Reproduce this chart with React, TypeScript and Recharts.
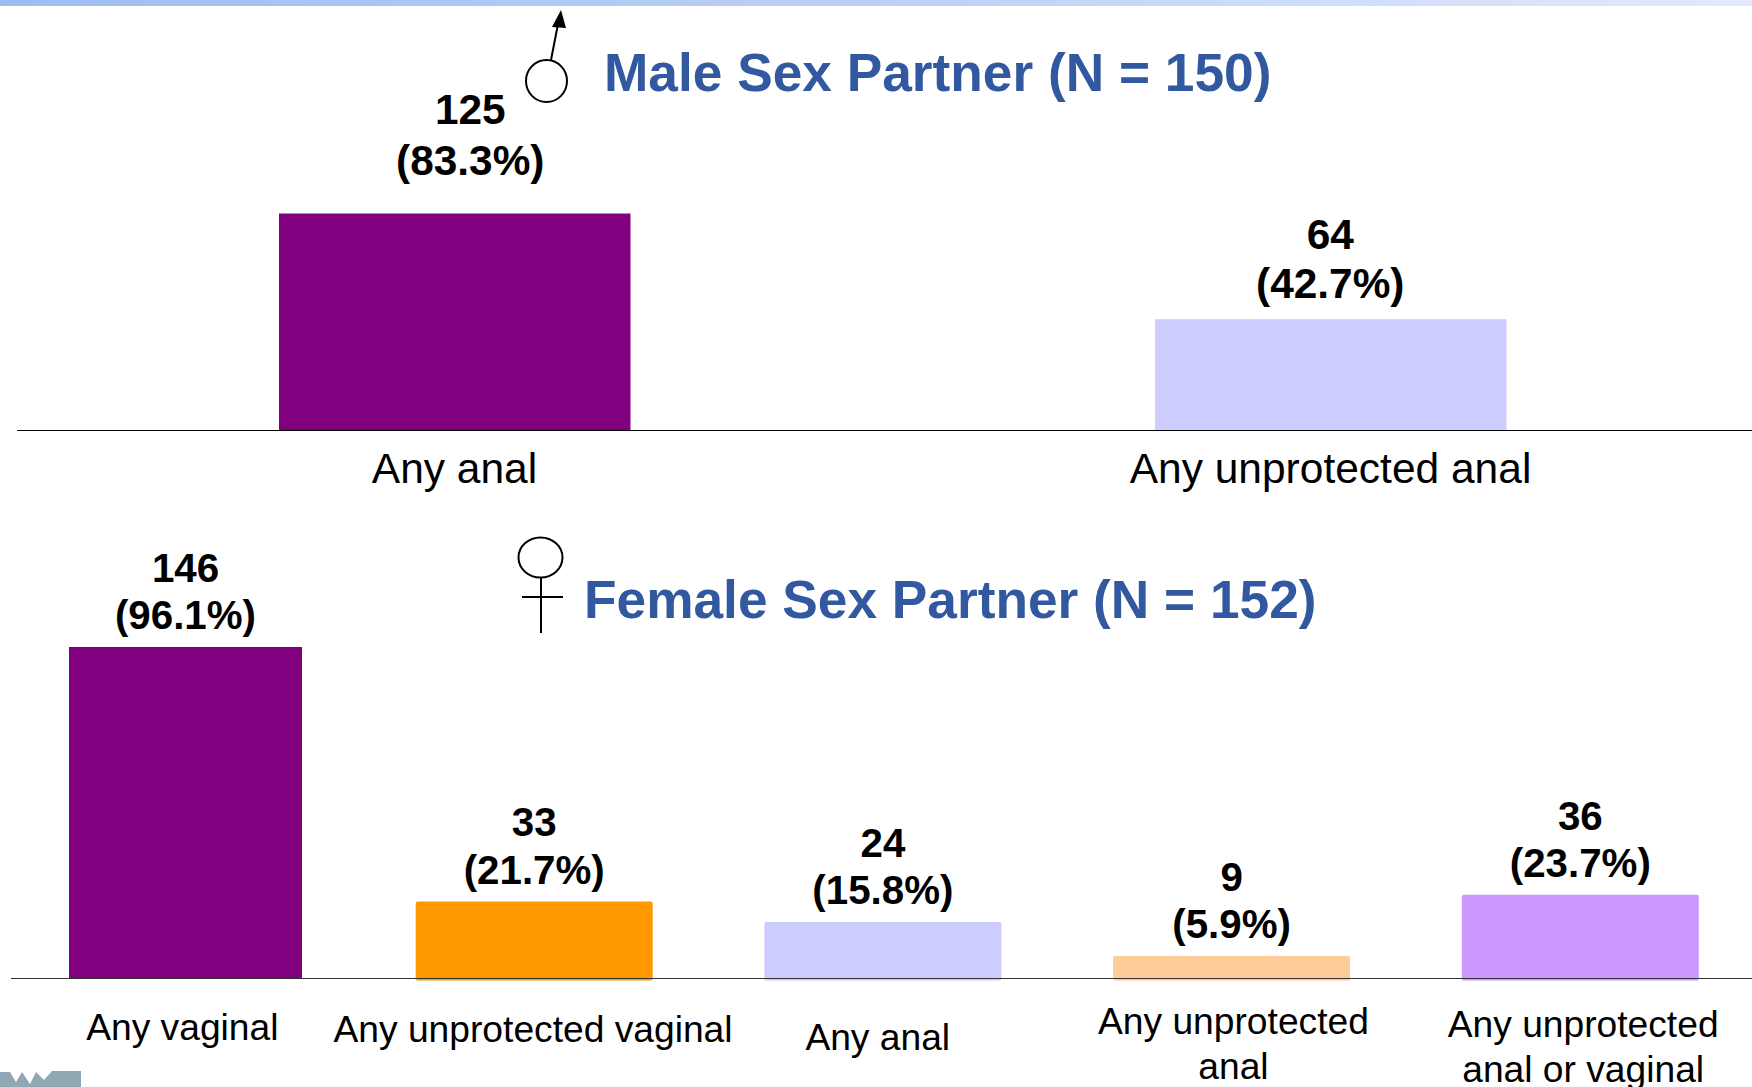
import React from 'react';
import { BarChart, Bar, Cell, XAxis, YAxis, LabelList, ReferenceLine } from 'recharts';

const maleCategories = ['Any anal', 'Any unprotected anal'];
const maleCounts = [125, 64];
const malePercents = ['(83.3%)', '(42.7%)'];
const maleColors = ['#800080', '#CCCCFF'];

const femaleCategories = [
  'Any vaginal',
  'Any unprotected vaginal',
  'Any anal',
  'Any unprotected\nanal',
  'Any unprotected\nanal or vaginal',
];
const femaleCounts = [146, 33, 24, 9, 36];
const femalePercents = ['(96.1%)', '(21.7%)', '(15.8%)', '(5.9%)', '(23.7%)'];
const femaleColors = ['#800080', '#FF9900', '#CCCCFF', '#FFCC99', '#CC99FF'];

// hand placement of the labels, same as the slide
const maleLabelNudge = [{ dx: 15.5, dy: -17, gap: 51 }, { dx: -0.5, dy: 0, gap: 49.5 }];
const femaleLabelNudge = [
  { dx: 0, dy: 1.5, gap: 47 },
  { dx: 0, dy: 0, gap: 47.5 },
  { dx: 0, dy: 0, gap: 47 },
  { dx: 0, dy: 0, gap: 47 },
  { dx: 0, dy: 0, gap: 47 },
];
const maleTickNudge = [{ dx: -0.5, dy: 52 }, { dx: -0.5, dy: 52 }];
const femaleTickNudge = [
  { dx: -3, dy: 61 },
  { dx: -1, dy: 63 },
  { dx: -5, dy: 71 },
  { dx: 2, dy: 55 },
  { dx: 3, dy: 58 },
];

const FONT = '"Liberation Sans", Arial, sans-serif';
const TITLE_COLOR = '#3259A0';

const toRows = (categories: string[], counts: number[], percents: string[]) =>
  categories.map((name, i) => ({ name, count: counts[i], percent: percents[i] }));

function barLabel(
  percents: string[],
  counts: number[],
  fontSize: number,
  lift: number,
  nudge: { dx: number; dy: number; gap: number }[],
) {
  return (props: any) => {
    const { x, y, width, index } = props;
    const n = nudge[index];
    const cx = x + width / 2 + n.dx;
    const base = y - lift + n.dy;
    return (
      <text textAnchor="middle" fontFamily={FONT} fontWeight="bold" fontSize={fontSize} fill="#000">
        <tspan x={cx} y={base - n.gap}>{counts[index]}</tspan>
        <tspan x={cx} y={base}>{percents[index]}</tspan>
      </text>
    );
  };
}

function wrappedTick(nudge: { dx: number; dy: number }[], fontSize: number, lineHeight: number) {
  return (props: any) => {
    const { x, y, payload, index } = props;
    const n = nudge[index];
    const lines = String(payload.value).split('\n');
    return (
      <text textAnchor="middle" fontFamily={FONT} fontSize={fontSize} fill="#000">
        {lines.map((line, i) => (
          <tspan key={line} x={x + n.dx} y={y + n.dy + i * lineHeight}>{line}</tspan>
        ))}
      </text>
    );
  };
}

export default function App() {
  return (
    <div style={{ position: 'absolute', left: 0, top: 0, width: 1752, height: 1087, overflow: 'hidden', background: '#fff' }}>
      <div
        style={{
          position: 'absolute',
          left: 0,
          top: 0,
          width: 1752,
          height: 6,
          background: 'linear-gradient(90deg, #9DBDF3 0%, #BCD0F6 50%, #E2EAFB 100%)',
        }}
      />

      <div style={{ position: 'absolute', left: 0, top: 0 }}>
        <BarChart
          width={1769}
          height={520}
          data={toRows(maleCategories, maleCounts, malePercents)}
          margin={{ top: 170, right: 0, bottom: 0, left: 17 }}
          barSize={351.5}
        >
          <XAxis
            dataKey="name"
            height={89.5}
            interval={0}
            tickLine={false}
            tickSize={0}
            tickMargin={0}
            axisLine={{ stroke: '#000', strokeWidth: 1 }}
            tick={wrappedTick(maleTickNudge, 42.5, 46)}
          />
          <YAxis hide domain={[0, 150]} />
          <Bar dataKey="count" isAnimationActive={false}>
            {maleColors.map((c) => (
              <Cell key={c} fill={c} />
            ))}
            <LabelList content={barLabel(malePercents, maleCounts, 42.4, 21, maleLabelNudge)} />
          </Bar>
        </BarChart>
      </div>

      <div style={{ position: 'absolute', left: 0, top: 480 }}>
        <BarChart
          width={1754.5}
          height={607}
          data={toRows(femaleCategories, femaleCounts, femalePercents)}
          margin={{ top: 153.5, right: 0, bottom: 0, left: 11 }}
          barSize={233}
        >
          <XAxis
            dataKey="name"
            height={108.5}
            interval={0}
            tickLine={false}
            tickSize={0}
            tickMargin={0}
            axisLine={false}
            tick={wrappedTick(femaleTickNudge, 37.2, 45)}
          />
          <YAxis hide domain={[0, 152]} />
          <Bar dataKey="count" isAnimationActive={false}>
            {femaleColors.map((c, i) => (
              <Cell
                key={c}
                fill={c}
                stroke={i === 0 ? 'none' : c}
                strokeWidth={i === 0 ? 0 : 4}
                strokeLinejoin="round"
              />
            ))}
            <LabelList content={barLabel(femalePercents, femaleCounts, 40.3, 20, femaleLabelNudge)} />
          </Bar>
          <ReferenceLine y={0} stroke="#333" strokeWidth={1} isFront zIndex={600} />
        </BarChart>
      </div>

      <svg width={1752} height={1087} style={{ position: 'absolute', left: 0, top: 0, pointerEvents: 'none' }}>
        <text x={604} y={91} fontFamily={FONT} fontWeight="bold" fontSize={53.25} fill={TITLE_COLOR}>
          Male Sex Partner (N = 150)
        </text>
        <text x={584} y={618} fontFamily={FONT} fontWeight="bold" fontSize={53.25} fill={TITLE_COLOR}>
          Female Sex Partner (N = 152)
        </text>

        <ellipse cx={546.5} cy={81} rx={20.5} ry={21} fill="none" stroke="#000" strokeWidth={2} />
        <line x1={551} y1={60} x2={558} y2={24} stroke="#000" strokeWidth={2} />
        <polygon points="561,10 552,27 566,28" fill="#000" />

        <ellipse cx={540.5} cy={557.5} rx={22} ry={20} fill="none" stroke="#000" strokeWidth={2} />
        <line x1={541} y1={577} x2={541} y2={633} stroke="#000" strokeWidth={2} />
        <line x1={522} y1={597} x2={563} y2={597} stroke="#000" strokeWidth={2} />

        <path
          d="M0 1072 L10 1072 L16 1082 L22 1072 L30 1084 L36 1072 L44 1080 L52 1071 L81 1071 L81 1087 L0 1087 Z"
          fill="#8FA8B3"
        />
      </svg>
    </div>
  );
}
